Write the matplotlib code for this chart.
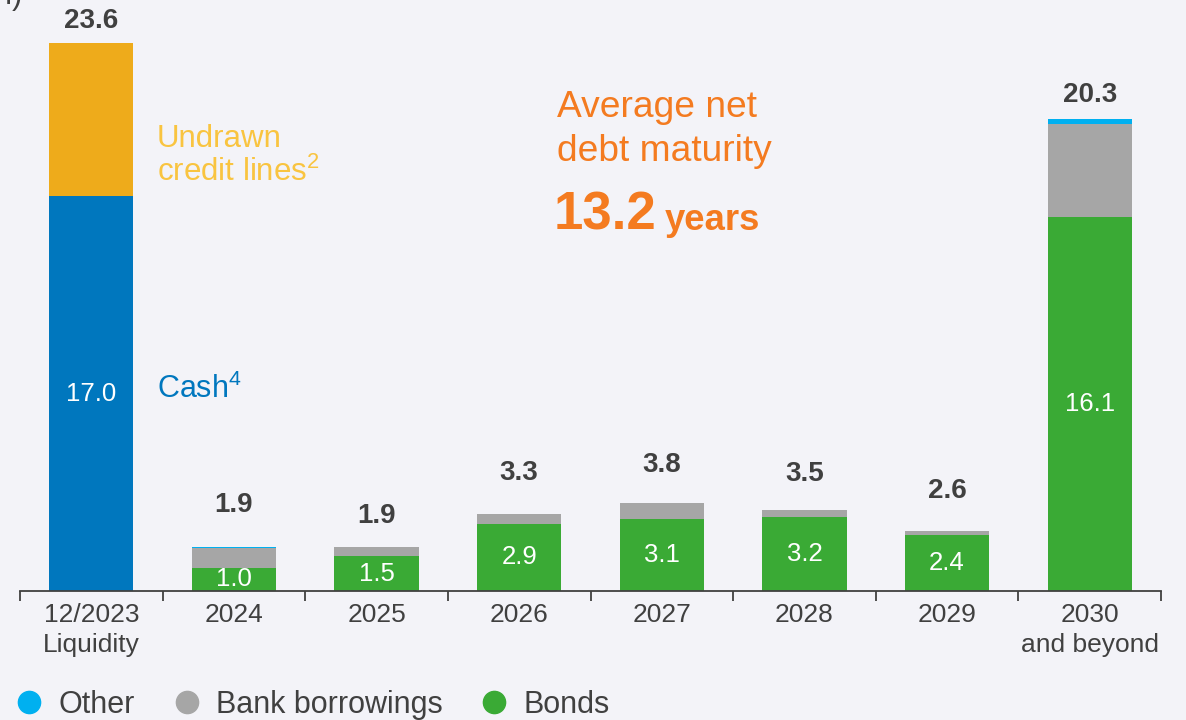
import matplotlib
matplotlib.use('Agg')
import matplotlib.pyplot as plt
from matplotlib.lines import Line2D
import numpy as np

plt.rcParams['font.family'] = ['Liberation Sans', 'DejaVu Sans']
plt.rcParams['mathtext.fontset'] = 'custom'
plt.rcParams['mathtext.rm'] = 'Liberation Sans'
plt.rcParams['mathtext.it'] = 'Liberation Sans'
plt.rcParams['mathtext.default'] = 'rm'

# data (EUR bn)
categories = ['12/2023\nLiquidity', '2024', '2025', '2026', '2027', '2028', '2029', '2030\nand beyond']
cash = [17.0, 0, 0, 0, 0, 0, 0, 0]
undrawn = [6.6, 0, 0, 0, 0, 0, 0, 0]
bonds = [0, 1.0, 1.5, 2.9, 3.1, 3.2, 2.4, 16.1]
bank = [0, 0.85, 0.4, 0.4, 0.7, 0.3, 0.2, 4.0]
other = [0, 0.05, 0, 0, 0, 0, 0, 0.2]
totals = ['23.6', '1.9', '1.9', '3.3', '3.8', '3.5', '2.6', '20.3']
inner = ['17.0', '1.0', '1.5', '2.9', '3.1', '3.2', '2.4', '16.1']

# label offsets above bar tops (points)
label_pad = [16, 30, 22, 29.5, 27.5, 26, 28.5, 17.5]

bg = '#F3F3F8'
c_blue = '#0077BE'
c_yellow = '#EEAB1B'
c_green = '#3AAA35'
c_grey = '#A6A6A6'
c_cyan = '#00B0F0'
c_orange = '#F47B20'
c_text = '#404040'

fig = plt.figure(figsize=(11.86, 7.2), dpi=100, facecolor=bg)
ax = fig.add_axes([20 / 1186, 129 / 720, 1141 / 1186, 590 / 720])
ax.set_facecolor(bg)

x = np.arange(len(categories))
w = 0.59
cash = np.array(cash)
undrawn = np.array(undrawn)
bonds = np.array(bonds)
bank = np.array(bank)
other = np.array(other)

ax.bar(x, cash, w, color=c_blue)
ax.bar(x, undrawn, w, bottom=cash, color=c_yellow)
ax.bar(x, bonds, w, color=c_green)
ax.bar(x, bank, w, bottom=bonds, color=c_grey)
ax.bar(x, other, w, bottom=bonds + bank, color=c_cyan)

top = cash + undrawn + bonds + bank + other
for i in range(len(x)):
    ax.annotate(totals[i], (x[i], top[i]), xytext=(0, label_pad[i]), textcoords='offset points',
                ha='center', va='center', fontsize=20, fontweight='bold', color=c_text)
    base = cash[i] if cash[i] > 0 else bonds[i]
    ax.text(x[i], base / 2, inner[i], ha='center', va='center', fontsize=18.5, color='white')

ax.set_xlim(-0.5, 7.5)
ax.set_ylim(0, 25.4)
ax.set_xticks(x)
ax.set_xticklabels(categories, fontsize=19, color=c_text, linespacing=1.3)
ax.set_xticks(np.arange(-0.5, 8, 1), minor=True)
ax.tick_params(axis='x', which='major', length=0, pad=9)
ax.tick_params(axis='x', which='minor', length=7, width=1.3, color=c_text)
ax.set_yticks([])
for s in ['left', 'top', 'right']:
    ax.spines[s].set_visible(False)
ax.spines['bottom'].set_color(c_text)
ax.spines['bottom'].set_linewidth(1.3)

# annotations
ax.text(0.461, 19.48, 'Undrawn', fontsize=22.5, color='#F9C440', ha='left', va='center')
ax.text(0.461, 18.02, r'credit lines$^{2}$', fontsize=22.5, color='#F9C440', ha='left', va='center')
ax.text(0.461, 8.7, r'Cash$^{4}$', fontsize=22, color=c_blue, ha='left', va='center')
ax.text(3.266, 20.41, 'Average net', fontsize=26.7, color=c_orange, ha='left', va='baseline')
ax.text(3.266, 18.52, 'debt maturity', fontsize=26.7, color=c_orange, ha='left', va='baseline')
ax.text(3.238, 15.55, '13.2', fontsize=38, fontweight='bold', color=c_orange, ha='left', va='baseline')
ax.text(4.023, 15.55, 'years', fontsize=26.3, fontweight='bold', color=c_orange, ha='left', va='baseline')

fig.text(22 / 1186, 1 - 4 / 720, '(EUR bn)', fontsize=22, color=c_text, ha='right', va='baseline')

handles = [Line2D([], [], marker='o', linestyle='', markersize=16, color=c) for c in [c_cyan, c_grey, c_green]]
fig.legend(handles, ['Other', 'Bank borrowings', 'Bonds'], loc='center left',
           bbox_to_anchor=(17 / 1186, 1 - 705 / 720), ncol=3, frameon=False, fontsize=22,
           handlelength=0.8, handletextpad=0.55, columnspacing=1.3, borderpad=0, borderaxespad=0,
           labelcolor=c_text)

fig.savefig('out.png', dpi=100, facecolor=bg)
